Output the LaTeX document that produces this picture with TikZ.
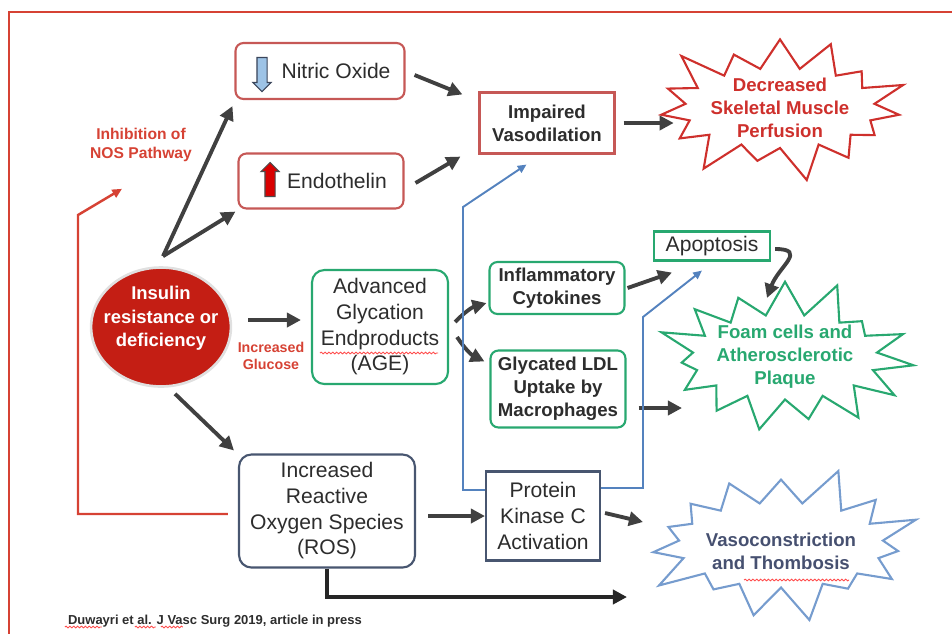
\documentclass[tikz,border=0pt]{standalone}
\usepackage{fontspec}
\setmainfont{Liberation Sans}
\usetikzlibrary{positioning, shapes.arrows, shapes.symbols, shapes.geometric, arrows.meta, calc, decorations.pathmorphing}
\definecolor{framered}{RGB}{214,66,52}
\definecolor{boxred}{RGB}{198,88,86}
\definecolor{starred}{RGB}{206,48,44}
\definecolor{insred}{RGB}{196,30,20}
\definecolor{green}{RGB}{40,168,112}
\definecolor{slate}{RGB}{72,86,112}
\definecolor{lineblue}{RGB}{84,130,190}
\definecolor{vasoblue}{RGB}{118,156,206}
\definecolor{vasotxt}{RGB}{70,80,112}
\definecolor{arrgray}{RGB}{64,64,64}
\definecolor{txtgray}{RGB}{45,45,45}
\definecolor{noblue}{RGB}{157,195,230}
\tikzstyle{box}=[rectangle, rounded corners=4.5pt, line width=1.2pt, fill=white, inner sep=0pt, align=center, text=txtgray, font=\fontsize{12}{14.6}\selectfont]
\tikzstyle{redbox}=[box, draw=boxred]
\tikzstyle{greenbox}=[box, draw=green]
\tikzstyle{slatebox}=[box, draw=slate]
\tikzstyle{boldtxt}=[font=\fontsize{10.6}{13}\selectfont\bfseries]
\tikzstyle{lbl}=[align=center, text=framered, font=\fontsize{8.9}{10.6}\selectfont\bfseries]
\tikzstyle{burst}=[starburst, starburst points=15, starburst point height=0.8cm, line width=1.2pt, inner sep=-0.2cm, align=center, font=\fontsize{10.6}{13}\selectfont\bfseries]
\tikzstyle{ins}=[ellipse, fill=insred, draw=black!12, line width=1.5pt, text=white, align=center, inner xsep=-0.16cm, inner ysep=0pt, minimum width=2.76cm, minimum height=2.38cm, font=\fontsize{10.5}{13.4}\selectfont\bfseries]
\tikzstyle{bigarrow}=[single arrow, single arrow head extend=0.08cm, single arrow head indent=0pt, minimum height=0.68cm, inner sep=0pt, line width=0.6pt]
\tikzstyle{arr}=[draw=arrgray, line width=2.2pt, -{Triangle[length=8pt,width=8pt]}]
\tikzstyle{bluearr}=[draw=lineblue, line width=1.1pt, -{Triangle[length=5pt,width=4.5pt]}]
\tikzstyle{redarr}=[draw=framered, line width=1.4pt, -{Triangle[length=5.5pt,width=5pt]}]
\tikzstyle{squiggle}=[draw=red!70, line width=0.5pt, decorate, decoration={snake, amplitude=0.5pt, segment length=2.2pt}]
\begin{document}
\begin{tikzpicture}[x=0.02cm, y=-0.02cm]
            %pathways from insulin resistance, laid out in pixel units of the slide
            \useasboundingbox (0,0) rectangle (952,633);
            \draw[framered, line width=1.7pt] (9,12) rectangle (975,655);
            \node[ins](ins) at (161,327){\raisebox{0.07cm}[0pt][0pt]{\begin{tabular}{@{}c@{}}Insulin\\resistance or\\deficiency\end{tabular}}};
            \node[redbox, minimum width=3.38cm, minimum height=1.12cm](no) at (320,71){\hspace*{0.64cm}Nitric Oxide};
            \node[redbox, minimum width=3.3cm, minimum height=1.1cm](et) at (321,181){\hspace*{0.64cm}Endothelin};
            \node[bigarrow, rotate=-90, fill=noblue, draw=slate!80!black](noarr) at (262,72){\rule{0pt}{0.18cm}};
            \node[bigarrow, rotate=90, fill=red!85!black, draw=black!70](etarr) at (270,182){\rule{0pt}{0.18cm}};
            \node[lbl](nos) at (141,145){Inhibition of\\NOS Pathway};
            \node[greenbox, rounded corners=7pt, minimum width=2.72cm, minimum height=2.28cm](age) at (380,327){Advanced\\Glycation\\Endproducts\\(AGE)};
            \node[lbl, font=\fontsize{8.1}{9.6}\selectfont\bfseries](glu) at (271,356){Increased\\Glucose};
            \node[slatebox, rounded corners=7pt, minimum width=3.52cm, minimum height=2.26cm](ros) at (327,511){Increased\\Reactive\\Oxygen Species\\(ROS)};
            \node[slatebox, rounded corners=0pt, minimum width=2.28cm, minimum height=1.78cm](pkc) at (543,516){Protein\\Kinase C\\Activation};
            \node[redbox, boldtxt, rounded corners=0pt, minimum width=2.7cm, minimum height=1.22cm](iv) at (547,123){Impaired\\Vasodilation};
            \node[burst, draw=starred, text=starred, random starburst=100, minimum width=5.4cm, minimum height=3.2cm](dsmp) at (780,108){Decreased\\Skeletal Muscle\\Perfusion};
            \node[greenbox, boldtxt, minimum width=2.7cm, minimum height=1.04cm](inf) at (557,288){Inflammatory\\Cytokines};
            \node[greenbox, boldtxt, minimum width=2.7cm, minimum height=1.54cm](gly) at (558,389){Glycated LDL\\Uptake by\\Macrophages};
            \node[greenbox, rounded corners=0pt, minimum width=2.32cm, minimum height=0.58cm](apo) at (712,246){Apoptosis};
            \node[burst, draw=green, text=green, random starburst=37, minimum width=5.3cm, minimum height=3.3cm](foam) at (785,357){Foam cells and\\Atherosclerotic\\Plaque};
            \node[burst, draw=vasoblue, text=vasotxt, random starburst=71, minimum width=5.7cm, minimum height=3.3cm](vaso) at (781,545){\raisebox{-0.26cm}[0pt][0pt]{\begin{tabular}{@{}c@{}}Vasoconstriction\\and Thombosis\end{tabular}}};
            \node[text=txtgray, font=\fontsize{7.4}{8}\selectfont\bfseries](ref) at (215,621){Duwayri et al. J Vasc Surg 2019, article in press};
            \coordinate (nosbend) at (78,215);
            \coordinate (bl) at (463,207);
            \coordinate (br) at (643,317);
            \coordinate (rosend) at (627,597);
            \draw[arr] ($(ins.north)+(2,-10)$) -- ($(no.south west)+(-2,6)$);
            \draw[arr] ($(ins.north)+(2,-10)$) -- ($(et.south west)+(-2,2)$);
            \draw[arr] ($(ins.east)+(16,-7)$) -- ($(age.west)+(-10,-7)$);
            \draw[arr] ($(ins.south)+(14,6)$) -- ($(ros.north west)+(-4,-3)$);
            \draw[redarr] ($(ros.west)+(-10,3)$) -| (nosbend) -- ($(nos.south)+(-19,21)$);
            \draw[arr] ($(no.east)+(9,4)$) -- ($(iv.north west)+(-16,3)$);
            \draw[arr] ($(et.east)+(11,2)$) -- ($(iv.south west)+(-18,2)$);
            \draw[arr] ($(iv.east)+(8,0)$) -- (dsmp.west |- iv.east);
            \draw[arr] ($(age.east)+(6,-5)$) to[bend left=15] ($(inf.south west)+(-2,-12)$);
            \draw[arr] ($(age.east)+(8,10)$) to[bend right=15] ($(gly.north west)+(-5,12)$);
            \draw[arr] ($(inf.east)+(2,0)$) -- ($(apo.south west)+(19,11)$);
            \draw[arr] ($(apo.east)+(4,3)$) to[out=0, in=70, looseness=1.7] ($(foam.center)+(-18,-59)$);
            \draw[arr] ($(gly.east)+(12,19)$) -- ($(foam.center)+(-103,51)$);
            \draw[arr] ($(ros.east)+(12,5)$) -- (pkc.west);
            \draw[arr] ($(pkc.east)+(4,-3)$) -- ($(vaso.center)+(-138,-23)$);
            \draw[arr, draw=black!85] (ros.south) |- (rosend);
            \draw[bluearr] ($(pkc.west)+(0,-26)$) -| (bl) -- ($(iv.south west)+(48,10)$);
            \draw[bluearr] ($(pkc.east)+(0,-28)$) -| (br) -- ($(apo.south west)+(49,9)$);
            %spelling marks
            \draw[squiggle] ($(age.center)+(-60,26)$) -- ($(age.center)+(58,26)$);
            \draw[squiggle] ($(vaso.center)+(-37,35)$) -- ($(vaso.center)+(68,35)$);
            \draw[squiggle] ($(ref.west)+(3,6)$) -- ($(ref.west)+(40,6)$);
            \draw[squiggle] ($(ref.west)+(73,6)$) -- ($(ref.west)+(94,6)$);
            \draw[squiggle] ($(ref.west)+(99,6)$) -- ($(ref.west)+(121,6)$);
        \end{tikzpicture}
\end{document}
